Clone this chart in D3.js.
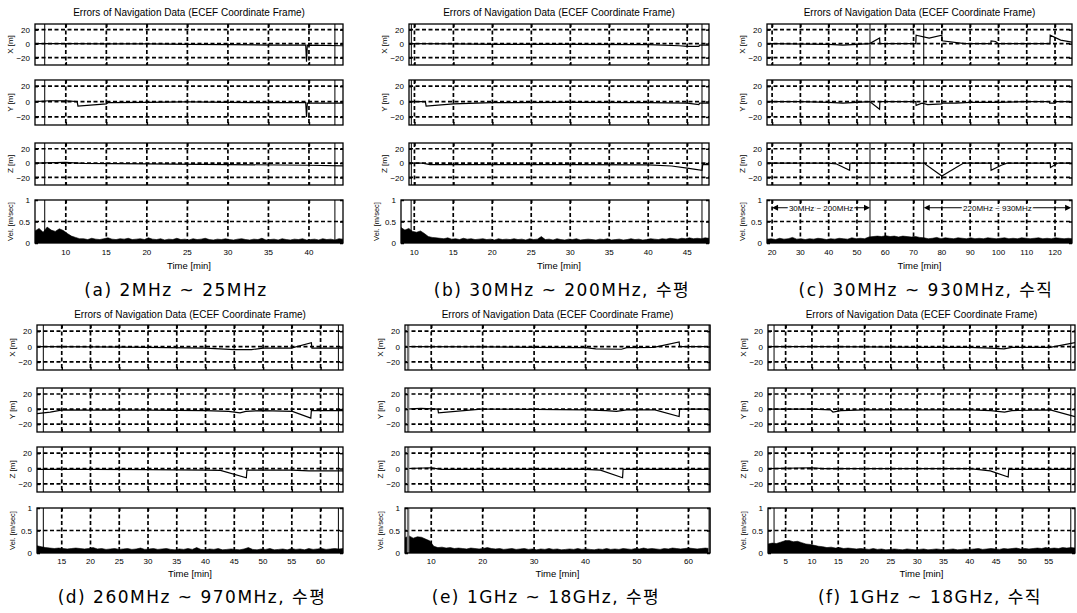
<!DOCTYPE html>
<html>
<head>
<meta charset="utf-8">
<script src="https://cdn.jsdelivr.net/npm/d3@7"></script>
<style>
body { margin: 0; background: #fff; }
svg { display: block; }
.tick text { font-family: "Liberation Sans", Arial, sans-serif; font-size: 8px; fill: #000; }
</style>
</head>
<body>
<svg id="fig" width="1077" height="613"></svg>
<script>
// ---- data ----
const captions = [
    "(a) 2MHz ~ 25MHz", "(b) 30MHz ~ 200MHz, 수평", "(c) 30MHz ~ 930MHz, 수직",
    "(d) 260MHz ~ 970MHz, 수평", "(e) 1GHz ~ 18GHz, 수평", "(f) 1GHz ~ 18GHz, 수직"
];
const titleText = "Errors of Navigation Data (ECEF Coordinate Frame)";
const timeDomains = [[6.2, 44.2], [9.3, 47.8], [18.2, 126], [10.7, 63.9], [4.9, 64.2], [1.65, 60]];
const velStart = [6.2, 8.3, 18.2, 10.7, 4.9, 1.65];
const velStep = [0.5, 0.5, 1.5, 0.75, 0.8, 0.8];
const timeTicks = [
    [10, 15, 20, 25, 30, 35, 40],
    [10, 15, 20, 25, 30, 35, 40, 45],
    [20, 30, 40, 50, 60, 70, 80, 90, 100, 110, 120],
    [15, 20, 25, 30, 35, 40, 45, 50, 55, 60],
    [10, 20, 30, 40, 50, 60],
    [5, 10, 15, 20, 25, 30, 35, 40, 45, 50, 55]
];
const posTicks = [-20, 0, 20];
const velTicks = [0, 0.5, 1];
const markLines = [[7.4, 43.2], [9.6, 46.9], [54.6, 73.6], [11.8, 63.1], [5.5, 64.1], [2.8, 59.2]];
const bandLabels = [
    { from: 20, to: 54.6, text: "30MHz ~ 200MHz" },
    { from: 73.6, to: 125.7, text: "220MHz ~ 930MHz" }
];

const xErrA = [[6.2,0],[10,0],[15,-0.5],[20,-0.5],[25,-1],[30,-1.5],[35,-2],[39.6,-2],[39.7,-26],[39.8,-2],[44.2,-3]];
const yErrA = [[6.2,0],[8,1],[10,1],[11.4,0],[11.5,-6],[15,-3],[15.2,-1.5],[20,-1],[25,-0.5],[30,-1],[35,-1.5],[39.6,-1.5],[39.7,-20],[39.8,-2],[44.2,-2]];
const zErrA = [[6.2,0],[10,1],[12,-0.5],[20,-1],[30,-2],[40,-3],[44.2,-4]];
const velA = [0.28,0.34,0.25,0.37,0.3,0.27,0.33,0.29,
    0.22,0.16,0.13,0.1,
    0.1,0.08,0.11,0.09,0.08,0.1,0.12,0.09,0.08,0.1,
    0.09,0.11,0.08,0.09,0.1,0.08,0.12,0.09,0.08,0.1,
    0.07,0.09,0.08,0.11,0.08,0.09,0.07,0.1,0.08,0.09,
    0.11,0.08,0.07,0.09,0.08,0.1,0.08,0.07,0.09,0.1,
    0.08,0.07,0.09,0.08,0.11,0.07,0.08,0.09,0.07,0.1,
    0.08,0.07,0.09,0.08,0.1,0.07,0.08,0.09,0.07,0.1,
    0.08,0.09,0.07,0.1,0.09,0.08];

const xErrB = [[9.3,0],[15,-0.5],[20,-1],[30,-1],[40,-1.5],[44,-3],[45,-4],[46.5,-4],[46.6,-2],[47.8,-2]];
const yErrB = [[9.3,0],[11.4,0],[11.5,-6],[15,-3],[20,-1.5],[30,-1],[40,-1.5],[45,-2],[46.5,-4],[46.6,-2],[47.8,-2]];
const zErrB = [[9.3,0],[11,0],[12,-2],[20,-2],[30,-2],[40,-2.5],[43,-4],[45,-7],[46.9,-10],[47,-2],[47.8,-2]];
const velB = [0.36,0.3,0.34,0.27,
    0.25,0.28,0.22,
    0.15,0.13,0.12,
    0.11,0.1,0.12,0.09,0.1,0.08,0.11,0.09,0.1,0.08,
    0.09,0.1,0.08,0.09,0.07,0.1,0.08,0.09,0.08,0.1,
    0.08,0.09,0.07,0.1,0.08,0.09,0.15,0.08,0.09,0.07,
    0.1,0.08,0.07,0.09,0.08,0.1,0.07,0.08,0.09,0.08,
    0.07,0.09,0.08,0.1,0.07,0.08,0.09,0.07,0.08,0.1,
    0.08,0.09,0.07,0.08,0.1,0.09,0.08,0.1,0.09,0.11,
    0.1,0.09,0.11,0.1,0.12,0.1,0.11,0.1,0.12,0.11];

const xErrC = [[18.2,0],[40,-1],[45,-2],[50,-1],[54.5,0],[58,8],[58.1,0],[70.8,0],[70.9,12],[75.5,8],[80,12],[80.1,4],[88,0],[97.3,0],[97.4,4],[99,3],[100,0],[118.2,0],[118.3,12],[122,5],[126,2]];
const yErrC = [[18.2,0],[30,0],[40,-1],[45,-2],[50,-1],[54.5,0],[58,-10],[58.1,0],[70.8,0],[70.9,-5],[73,-2],[75,-4],[80,-3],[80.1,-2],[85,-2],[90,-1],[100,-1],[110,0],[118,0],[118.1,-2],[120,-2],[120.1,0],[126,0]];
const zErrC = [[18.2,0],[40,0],[42.6,-1],[47.4,-10],[47.5,0],[73.6,0],[80,-18],[87.7,0],[97.3,0],[97.4,-10],[101,-3],[103,0],[118.3,0],[118.4,-6],[121,0],[126,0]];
const velC = [0.09,0.1,0.08,0.11,0.09,0.1,0.13,0.09,0.1,0.08,0.1,0.09,0.11,0.1,0.08,0.1,0.09,0.11,0.1,0.09,0.12,0.1,0.11,0.1,
    0.14,0.15,0.16,0.15,0.17,0.15,0.16,0.14,0.16,0.15,0.14,0.15,0.13,
    0.12,0.1,0.11,0.13,0.1,0.12,0.11,0.1,0.12,0.11,0.1,0.12,0.1,0.11,0.1,0.12,0.11,0.1,
    0.11,0.12,0.1,0.11,0.1,0.12,0.11,0.1,0.11,0.12,0.1,0.11,0.1,0.12,0.11,0.1,0.11,0.1];

const xErrD = [[10.7,0],[20,-0.5],[30,-1],[40,-2],[45,-4],[48,-4],[50,-2],[54.9,-2],[58.4,5],[58.5,-2],[63.9,-2]];
const yErrD = [[10.7,-6],[13,-4],[15.2,-1],[20,-1.5],[30,-1.5],[40,-2],[44,-3],[46,-5],[47,-3],[50,-2],[55.1,-3],[58.3,-12],[58.4,-2],[63.9,-2]];
const zErrD = [[10.7,-1],[20,-1],[30,-1.5],[40,-2],[42.6,-2.5],[47.1,-12],[47.2,-2],[55,-2],[58,-3],[63.9,-3]];
const velD = [0.16,0.14,0.12,0.11,0.1,0.11,0.1,0.09,0.1,0.11,
    0.1,0.09,0.1,0.12,0.09,0.1,0.08,0.09,0.1,0.08,
    0.09,0.1,0.08,0.09,0.11,0.08,0.09,0.1,0.08,0.09,
    0.1,0.08,0.07,0.09,0.08,0.1,0.08,0.12,0.08,0.07,
    0.09,0.08,0.1,0.07,0.08,0.09,0.08,0.07,0.09,0.12,
    0.08,0.07,0.09,0.08,0.1,0.07,0.08,0.09,0.07,0.1,
    0.08,0.09,0.07,0.1,0.08,0.09,0.1,0.08,0.09,0.1,
    0.09,0.1];

const xErrE = [[4.9,0],[20,-0.5],[30,-1],[40,-1.5],[42,-3],[47,-3.5],[48,-1.5],[53.3,-1],[58.2,6],[58.3,0],[64.2,0]];
const yErrE = [[4.9,0],[8,1],[11.3,0],[11.4,-5],[19.7,0],[30,-0.5],[40,-1],[44,-2],[46,-3],[48,-1],[53.5,-1],[58.2,-10],[58.3,0],[64.2,0]];
const zErrE = [[4.9,0],[10,1],[11,0],[12,-1],[40,-1],[42.9,-2],[47.2,-12],[47.3,-1],[64.2,-1]];
const velE = [0.34,0.38,0.33,0.36,0.35,
    0.31,0.27,
    0.15,0.12,0.13,0.11,
    0.12,0.1,0.11,0.1,0.09,0.11,0.1,0.09,0.1,0.12,
    0.1,0.09,0.1,0.08,0.09,0.1,0.08,0.09,0.1,0.08,
    0.09,0.07,0.09,0.08,0.1,0.08,0.09,0.07,0.08,0.09,
    0.08,0.1,0.08,0.09,0.08,0.07,0.09,0.08,0.1,0.08,
    0.09,0.08,0.1,0.09,0.08,0.1,0.09,0.11,0.09,0.1,
    0.09,0.08,0.1,0.09,0.11,0.1,0.09,0.1,0.11,0.1,
    0.09,0.1,0.11,0.1];

const xErrF = [[1.65,0],[10,0],[20,-0.5],[30,-1],[40,-1],[44,-2],[46.5,-3],[48,-1],[55.3,-1],[60,5]];
const yErrF = [[1.65,0],[10,0],[13.5,-1],[14,-4],[15.5,-2],[20,-1],[30,-1],[40,-1],[44,-2],[46.6,-4],[48,-2],[55.3,-1],[60,-10]];
const zErrF = [[1.65,0],[10,1],[12,0],[40,0],[43.9,-3],[47.3,-11],[47.4,-1],[60,-1]];
const velF = [0.2,0.22,0.21,0.24,
    0.27,0.28,0.25,0.26,
    0.23,0.2,0.19,0.17,0.15,
    0.14,0.12,0.13,0.11,0.12,0.1,0.11,0.1,0.09,0.1,
    0.09,0.08,0.1,0.08,0.09,0.07,0.08,0.09,0.08,0.07,
    0.09,0.08,0.07,0.08,0.09,0.07,0.08,0.09,0.08,0.07,
    0.08,0.09,0.07,0.08,0.09,0.08,0.09,0.1,0.08,0.09,
    0.1,0.09,0.08,0.1,0.09,0.1,0.11,0.09,0.1,0.09,
    0.1,0.11,0.1,0.12,0.1,0.11,0.1,0.12,0.11,0.12,0.11];

const xErr = [xErrA, xErrB, xErrC, xErrD, xErrE, xErrF];
const yErr = [yErrA, yErrB, yErrC, yErrD, yErrE, yErrF];
const zErr = [zErrA, zErrB, zErrC, zErrD, zErrE, zErrF];
const vel = [velA, velB, velC, velD, velE, velF];

// ---- layout ----
const rows = [
    { title: 12, X: [24, 65], Y: [80, 125], Z: [143, 185], V: [200, 243], ticks: 252, time: 265, caption: 296 },
    { title: 314, X: [325, 370], Y: [388, 432], Z: [447, 492], V: [508, 553], ticks: 561, time: 573, caption: 603 }
];
const cols = [
    { left: 35, right: 343, velLeft: 35, cap: 176 },
    { left: 409, right: 709, velLeft: 401, cap: 562 },
    { left: 767, right: 1072, velLeft: 767, cap: 926 },
    { left: 37, right: 343, velLeft: 37, cap: 192 },
    { left: 405, right: 710, velLeft: 405, cap: 546 },
    { left: 768, right: 1075, velLeft: 768, cap: 930 }
];

const svg = d3.select("#fig");
const font = '"Liberation Sans", Arial, sans-serif';
const dash = "4,2.5";

function drawBox(g, x, y, ticks, yTicks, top, bot, l, r) {
    // dashed grid
    g.selectAll(null).data(ticks).enter().append("line")
        .attr("x1", d => x(d)).attr("x2", d => x(d))
        .attr("y1", top).attr("y2", bot)
        .attr("stroke", "#000").attr("stroke-width", 1.7).attr("stroke-dasharray", dash);
    g.selectAll(null).data(yTicks.filter(d => y(d) > top + 1 && y(d) < bot - 1)).enter().append("line")
        .attr("x1", l).attr("x2", r)
        .attr("y1", d => y(d)).attr("y2", d => y(d))
        .attr("stroke", "#000").attr("stroke-width", 1.7).attr("stroke-dasharray", dash);
}

function drawFrame(g, x, y, ticks, yTicks, top, bot, l, r) {
    const inner = -3;
    g.append("g").attr("transform", `translate(0,${bot})`)
        .call(d3.axisBottom(x).tickValues(ticks).tickSize(inner).tickFormat(""))
        .call(a => a.select(".domain").remove());
    g.append("g").attr("transform", `translate(0,${top})`)
        .call(d3.axisTop(x).tickValues(ticks).tickSize(inner).tickFormat(""))
        .call(a => a.select(".domain").remove());
    g.append("g").attr("transform", `translate(${r},0)`)
        .call(d3.axisRight(y).tickValues(yTicks).tickSize(inner).tickFormat(""))
        .call(a => a.select(".domain").remove());
    g.append("g").attr("transform", `translate(${l},0)`)
        .call(d3.axisLeft(y).tickValues(yTicks).tickSize(inner).tickPadding(5)
            .tickFormat(d => d3.format("")(d)))
        .call(a => a.select(".domain").remove());
    g.selectAll(".tick line").attr("stroke", "#000").attr("stroke-width", 1.5);
    g.append("rect").attr("x", l).attr("y", top).attr("width", r - l).attr("height", bot - top)
        .attr("fill", "none").attr("stroke", "#000").attr("stroke-width", 1.3);
}

cols.forEach((c, i) => {
    const row = rows[Math.floor(i / 3)];
    const g = svg.append("g");
    const x = d3.scaleLinear().domain(timeDomains[i]).range([c.left, c.right]);
    const xv = d3.scaleLinear().domain([velStart[i], timeDomains[i][1]]).range([c.velLeft, c.right]);

    g.append("text").attr("x", (c.left + c.right) / 2).attr("y", row.title + 3.5)
        .attr("text-anchor", "middle").attr("font-family", font).attr("font-size", 10)
        .text(titleText);

    const subs = [
        { key: "X", data: xErr[i], label: "X [m]" },
        { key: "Y", data: yErr[i], label: "Y [m]" },
        { key: "Z", data: zErr[i], label: "Z [m]" }
    ];
    subs.forEach((s, k) => {
        const [top, bot] = row[s.key];
        const y = d3.scaleLinear().domain([-30.5, 28]).range([bot, top]);
        const sg = g.append("g");
        const clipId = `clip${i}${k}`;
        sg.append("clipPath").attr("id", clipId).append("rect")
            .attr("x", c.left).attr("y", top).attr("width", c.right - c.left).attr("height", bot - top);
        drawBox(sg, x, y, timeTicks[i], posTicks, top, bot, c.left, c.right);
        sg.append("path").datum(s.data)
            .attr("clip-path", `url(#${clipId})`)
            .attr("d", d3.line().x(d => x(d[0])).y(d => y(d[1])))
            .attr("fill", "none").attr("stroke", "#000").attr("stroke-width", 1.2);
        markLines[i].forEach(m => {
            sg.append("line").attr("x1", x(m)).attr("x2", x(m)).attr("y1", top).attr("y2", bot)
                .attr("stroke", i === 4 ? "#777" : "#000").attr("stroke-width", i === 4 ? 2.5 : 1);
        });
        drawFrame(sg, x, y, timeTicks[i], posTicks, top, bot, c.left, c.right);
        sg.append("text").attr("transform", `translate(${c.left - 22},${(top + bot) / 2}) rotate(-90)`)
            .attr("text-anchor", "middle").attr("font-family", font).attr("font-size", 8)
            .text(s.label);
    });

    // velocity subplot
    const [top, bot] = row.V;
    const yv = d3.scaleLinear().domain([0, 1]).range([bot, top]);
    const vg = g.append("g");
    vg.append("clipPath").attr("id", `vclip${i}`).append("rect")
        .attr("x", c.velLeft).attr("y", top).attr("width", c.right - c.velLeft).attr("height", bot - top);
    drawBox(vg, xv, yv, timeTicks[i], velTicks, top, bot, c.velLeft, c.right);
    vg.append("path").datum(vel[i])
        .attr("clip-path", `url(#vclip${i})`)
        .attr("d", d3.area()
            .x((d, j) => xv(velStart[i] + j * velStep[i]))
            .y0(yv(0)).y1(d => yv(d)))
        .attr("fill", "#000").attr("stroke", "#000").attr("stroke-width", 0.6);
    markLines[i].forEach(m => {
        vg.append("line").attr("x1", xv(m)).attr("x2", xv(m)).attr("y1", top).attr("y2", bot)
            .attr("stroke", i === 4 ? "#777" : "#000").attr("stroke-width", i === 4 ? 2.5 : 1);
    });
    drawFrame(vg, xv, yv, timeTicks[i], velTicks, top, bot, c.velLeft, c.right);
    vg.append("text").attr("transform", `translate(${c.velLeft - 22},${(top + bot) / 2}) rotate(-90)`)
        .attr("text-anchor", "middle").attr("font-family", font).attr("font-size", 7.5)
        .text("Vel. [m/sec]");

    if (i === 2) {
        bandLabels.forEach(b => {
            const yy = yv(0.82);
            vg.append("line").attr("x1", xv(b.from) + 4).attr("x2", xv(b.to) - 4)
                .attr("y1", yy).attr("y2", yy).attr("stroke", "#000").attr("stroke-width", 1);
            [[b.from, 1], [b.to, -1]].forEach(([t, dir]) => {
                const px = xv(t);
                vg.append("path")
                    .attr("d", `M${px},${yy} L${px + dir * 6},${yy - 3} L${px + dir * 6},${yy + 3} Z`)
                    .attr("fill", "#000");
            });
            vg.append("text").attr("x", (xv(b.from) + xv(b.to)) / 2).attr("y", yy + 3)
                .attr("text-anchor", "middle").attr("font-family", font).attr("font-size", 8)
                .attr("stroke", "#fff").attr("stroke-width", 3).attr("paint-order", "stroke")
                .text(b.text);
        });
    }

    // time axis labels
    g.selectAll(null).data(timeTicks[i]).enter().append("text")
        .attr("x", d => xv(d)).attr("y", row.ticks + 3)
        .attr("text-anchor", "middle").attr("font-family", font).attr("font-size", 8)
        .text(d => d);
    g.append("text").attr("x", (c.left + c.right) / 2).attr("y", row.time + 3.5)
        .attr("text-anchor", "middle").attr("font-family", font).attr("font-size", 9.5)
        .text("Time [min]");

    g.append("text").attr("x", c.cap).attr("y", row.caption)
        .attr("text-anchor", "middle").attr("font-family", '"DejaVu Sans", "Noto Sans CJK KR", sans-serif')
        .attr("font-size", 17).attr("letter-spacing", 1.5).text(captions[i]);
});
</script>
</body>
</html>
